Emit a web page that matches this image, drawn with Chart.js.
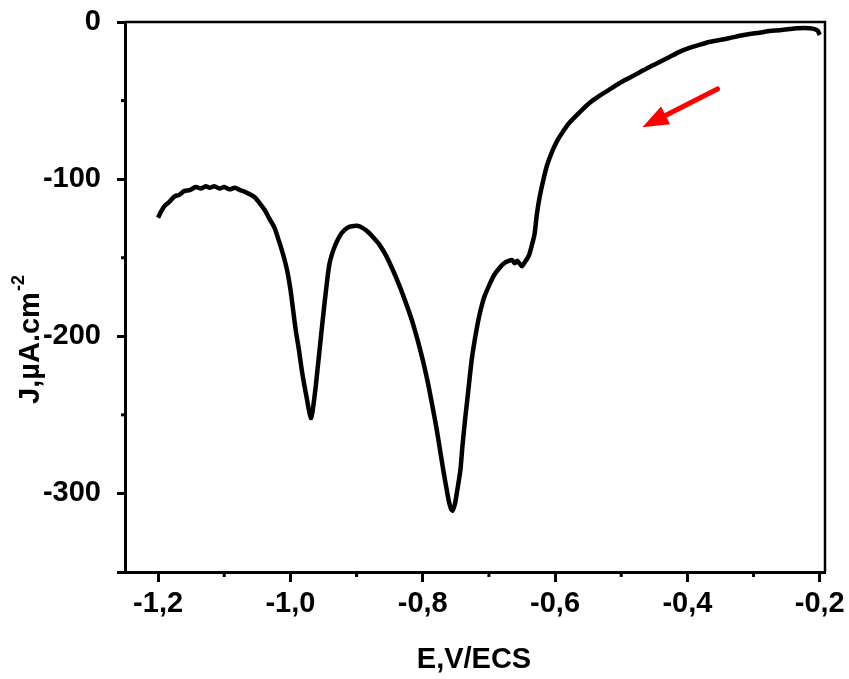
<!DOCTYPE html>
<html>
<head>
<meta charset="utf-8">
<script src="https://cdn.jsdelivr.net/npm/chart.js@4/dist/chart.umd.min.js"></script>
<style>
html,body{margin:0;padding:0;background:#fff;}
#wrap{width:849px;height:679px;position:relative;}
</style>
</head>
<body>
<div id="wrap"><canvas id="c" width="849" height="679"></canvas></div>
<script>
// ---- data ----
const potentialE = [
 -1.200,-1.196,-1.190,-1.183,-1.175,-1.168,-1.160,-1.152,-1.143,-1.135,-1.128,-1.122,-1.115,-1.107,-1.100,-1.092,-1.084,-1.076,-1.069,-1.062,-1.054,-1.047,-1.039,-1.032,-1.024,-1.018,-1.011,-1.005,-1.000,-0.996,-0.992,-0.987,-0.983,-0.979,-0.975,-0.972,-0.969,-0.967,-0.965,-0.962,-0.959,-0.955,-0.951,-0.946,-0.941,-0.935,-0.929,-0.922,-0.914,-0.907,-0.899,-0.891,-0.883,-0.874,-0.865,-0.855,-0.845,-0.836,-0.827,-0.817,-0.808,-0.800,-0.793,-0.786,-0.779,-0.774,-0.769,-0.764,-0.760,-0.757,-0.755,-0.753,-0.751,-0.747,-0.743,-0.740,-0.736,-0.731,-0.726,-0.720,-0.714,-0.707,-0.699,-0.692,-0.684,-0.677,-0.670,-0.665,-0.661,-0.657,-0.654,-0.650,-0.646,-0.642,-0.639,-0.635,-0.631,-0.628,-0.624,-0.618,-0.612,-0.604,-0.596,-0.587,-0.578,-0.563,-0.548,-0.533,-0.518,-0.503,-0.488,-0.472,-0.457,-0.442,-0.427,-0.412,-0.397,-0.382,-0.367,-0.351,-0.336,-0.321,-0.306,-0.291,-0.276,-0.261,-0.246,-0.234,-0.223,-0.215,-0.208,-0.203,-0.200
];
const currentJ = [
 -124.6,-121.0,-117.0,-114.5,-111.0,-110.0,-107.5,-107.0,-105.0,-106.0,-104.5,-105.5,-104.5,-106.0,-105.0,-106.5,-105.5,-107.0,-108.0,-109.5,-111.5,-115.0,-119.5,-125.0,-131.0,-138.5,-148.0,-158.0,-170.0,-183.0,-196.0,-209.0,-221.0,-231.0,-240.0,-247.0,-252.0,-249.0,-243.0,-233.0,-221.0,-205.0,-189.0,-170.0,-154.0,-145.0,-139.0,-134.0,-131.0,-130.0,-129.7,-131.0,-133.5,-137.5,-142.0,-149.0,-158.0,-167.0,-177.0,-189.0,-202.0,-215.0,-228.0,-243.0,-259.0,-272.0,-285.0,-297.0,-306.0,-310.0,-311.0,-309.0,-306.0,-296.0,-285.0,-270.0,-253.0,-234.0,-215.0,-199.0,-186.0,-175.0,-167.0,-161.0,-156.5,-153.5,-152.0,-151.5,-153.5,-152.0,-153.5,-155.5,-153.0,-150.5,-148.0,-142.0,-135.0,-124.0,-113.0,-101.0,-91.0,-82.0,-75.0,-69.0,-64.0,-57.5,-51.5,-47.0,-43.0,-39.0,-35.6,-32.0,-28.6,-25.5,-22.3,-19.0,-16.5,-14.5,-12.7,-11.5,-10.2,-8.8,-7.6,-6.8,-5.7,-5.2,-4.5,-4.0,-3.8,-4.0,-4.5,-5.5,-8.3
];
const xTickValues = [-1.2,-1.1,-1.0,-0.9,-0.8,-0.7,-0.6,-0.5,-0.4,-0.3,-0.2];
const xLabelledTicks = [-1.2,-1.0,-0.8,-0.6,-0.4,-0.2];
const yTickValues = [-350,-300,-250,-200,-150,-100,-50,0];
const yLabelledTicks = [-300,-200,-100,0];
const xTitle = 'E,V/ECS';
const yTitle = 'J,µA.cm';
const yTitleSup = '-2';
const arrowStart = [-0.3545, -42.6];
const arrowEnd = [-0.468, -67.0];

const FONT = '"Liberation Sans", Arial, sans-serif';
const near = (a, b) => Math.abs(a - b) < 1e-6;
const isLabelled = (list, v) => list.some(t => near(t, v));

const points = potentialE.map((x, i) => ({x, y: currentJ[i]}));

const decor = {
  id: 'decor',
  afterDraw(chart) {
    const ctx = chart.ctx, a = chart.chartArea;
    const xs = chart.scales.x, ys = chart.scales.y;
    ctx.save();
    // top & right border
    ctx.strokeStyle = '#000';
    ctx.lineWidth = 2.5;
    ctx.beginPath();
    ctx.moveTo(a.left, a.top); ctx.lineTo(a.right, a.top); ctx.lineTo(a.right, a.bottom);
    ctx.stroke();
    // minor ticks
    ctx.lineWidth = 3;
    xTickValues.filter(v => !isLabelled(xLabelledTicks, v)).forEach(v => {
      const px = xs.getPixelForValue(v);
      ctx.beginPath(); ctx.moveTo(px, a.bottom); ctx.lineTo(px, a.bottom + 5); ctx.stroke();
    });
    yTickValues.filter(v => !isLabelled(yLabelledTicks, v) && v > -350).forEach(v => {
      const py = ys.getPixelForValue(v);
      ctx.beginPath(); ctx.moveTo(a.left, py); ctx.lineTo(a.left - 4, py); ctx.stroke();
    });
    // axis titles
    ctx.fillStyle = '#000';
    ctx.font = 'bold 29px ' + FONT;
    ctx.textAlign = 'center'; ctx.textBaseline = 'middle';
    ctx.fillText(xTitle, 474, 660);
    ctx.translate(31, 340);
    ctx.rotate(-Math.PI / 2);
    ctx.textAlign = 'left';
    const w1 = ctx.measureText(yTitle).width;
    ctx.font = 'bold 18px ' + FONT;
    const w2 = ctx.measureText(yTitleSup).width;
    const start = -(w1 + w2) / 2;
    ctx.font = 'bold 29px ' + FONT;
    ctx.fillText(yTitle, start, 0);
    ctx.font = 'bold 18px ' + FONT;
    ctx.fillText(yTitleSup, start + w1 + 1, -12);
    ctx.setTransform(1,0,0,1,0,0);
    // red arrow
    const x0 = xs.getPixelForValue(arrowStart[0]), y0 = ys.getPixelForValue(arrowStart[1]);
    const x1 = xs.getPixelForValue(arrowEnd[0]), y1 = ys.getPixelForValue(arrowEnd[1]);
    const ang = Math.atan2(y1 - y0, x1 - x0);
    const headLen = 26, headW = 10;
    const bx = x1 - headLen * Math.cos(ang), by = y1 - headLen * Math.sin(ang);
    ctx.strokeStyle = '#ff0000'; ctx.fillStyle = '#ff0000';
    ctx.lineWidth = 5; ctx.lineCap = 'round';
    ctx.beginPath(); ctx.moveTo(x0, y0); ctx.lineTo(bx + 4*Math.cos(ang), by + 4*Math.sin(ang)); ctx.stroke();
    ctx.beginPath();
    ctx.moveTo(x1, y1);
    ctx.lineTo(bx + headW * Math.sin(ang), by - headW * Math.cos(ang));
    ctx.lineTo(bx - headW * Math.sin(ang), by + headW * Math.cos(ang));
    ctx.closePath(); ctx.fill();
    ctx.restore();
  }
};

new Chart(document.getElementById('c'), {
  type: 'line',
  data: {
    datasets: [{
      data: points,
      borderColor: '#000',
      borderWidth: 4.5,
      pointRadius: 0,
      tension: 0.25,
      fill: false
    }]
  },
  options: {
    responsive: false,
    animation: false,
    layout: {padding: {top: 22, right: 24, left: 0, bottom: 0}},
    plugins: {legend: {display: false}, tooltip: {enabled: false}},
    scales: {
      x: {
        type: 'linear',
        min: -1.25, max: -0.192,
        afterBuildTicks: s => { s.ticks = xTickValues.map(v => ({value: v})); },
        afterFit: s => { s.height = 107; s.paddingLeft = 0; s.paddingRight = 0; },
        border: {display: true, color: '#000', width: 3},
        grid: {
          drawOnChartArea: false, drawTicks: true, tickLength: 10, tickWidth: 3,
          tickColor: c => (c.tick && isLabelled(xLabelledTicks, c.tick.value)) ? '#000' : 'rgba(0,0,0,0)'
        },
        ticks: {
          autoSkip: false, maxRotation: 0, padding: 5, color: '#000',
          font: {family: FONT, size: 29, weight: 'bold'},
          callback: v => isLabelled(xLabelledTicks, v) ? v.toFixed(1).replace('.', ',') : ''
        }
      },
      y: {
        type: 'linear',
        min: -350, max: 0,
        afterBuildTicks: s => { s.ticks = yTickValues.map(v => ({value: v})); },
        afterFit: s => { s.width = 125; s.paddingTop = 0; s.paddingBottom = 0; },
        border: {display: true, color: '#000', width: 3},
        grid: {
          drawOnChartArea: false, drawTicks: true, tickLength: 8, tickWidth: 3,
          tickColor: c => (c.tick && (isLabelled(yLabelledTicks, c.tick.value) || near(c.tick.value, -350))) ? '#000' : 'rgba(0,0,0,0)'
        },
        ticks: {
          autoSkip: false, padding: 16, color: '#000',
          font: {family: FONT, size: 29, weight: 'bold'},
          callback: v => isLabelled(yLabelledTicks, v) ? String(v) : ''
        }
      }
    }
  },
  plugins: [decor]
});
</script>
</body>
</html>
